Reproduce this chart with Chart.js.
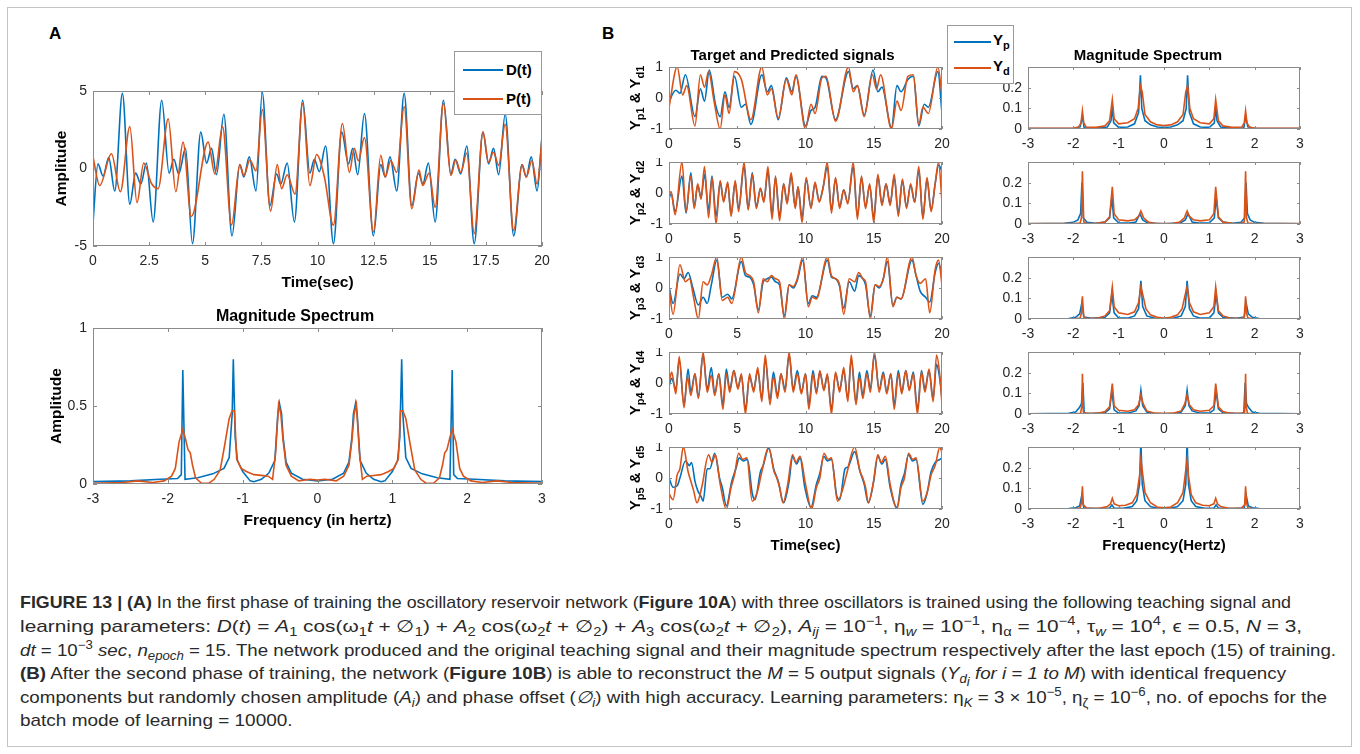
<!DOCTYPE html>
<html><head><meta charset="utf-8">
<script src="https://cdn.jsdelivr.net/npm/chart.js@4.4.0/dist/chart.umd.min.js"></script>
<style>
body{margin:0;background:#fff;}
#fig{position:relative;width:1360px;height:754px;overflow:hidden;background:#fff;font-family:"Liberation Sans",Arial,Helvetica,sans-serif;color:#000;}
#fig canvas{position:absolute;}
.frame{position:absolute;left:7px;top:7px;width:1345px;height:740px;border:1px solid #c4c4c4;box-sizing:border-box;}
.plabel{position:absolute;font-weight:bold;font-size:17px;line-height:20px;}
.legend{position:absolute;background:#fff;border:1px solid #9a9a9a;box-sizing:border-box;z-index:5;}
.lgline{position:absolute;height:2px;}
.lgtext{position:absolute;font-weight:bold;font-size:15px;line-height:18px;white-space:nowrap;}
.lgtext sub,.ylab sub{font-size:11px;vertical-align:-4px;line-height:0;}
.ylab{position:absolute;font-weight:bold;font-size:15px;line-height:18px;white-space:nowrap;transform:translate(-50%,-50%) rotate(-90deg);z-index:4;}
.cap{position:absolute;left:20px;white-space:nowrap;font-family:"Liberation Sans",Arial,Helvetica,sans-serif;font-size:17px;line-height:20px;color:#2a2a2a;transform-origin:0 50%;}
.cap sub,.cap sup{font-size:12px;line-height:0;}
</style>
</head><body>
<div id="fig">
<div class="frame"></div>
<div class="plabel" style="left:49px;top:24px">A</div>
<div class="plabel" style="left:602px;top:24px">B</div>
</div>
<script>
// ---------- Panel A data ----------
const aTimeD = [[0,-3.5],[0.22,0.3],[0.45,-0.5],[0.7,0.7],[0.97,-1.45],[1.31,4.85],[1.64,-2.3],[1.9,-0.3],[2.13,-1.0],[2.38,0.35],[2.68,-3.45],[3.06,4.4],[3.39,-0.3],[3.6,0.6],[3.82,-0.35],[4.12,1.3],[4.43,-4.85],[4.8,2.35],[5.06,0.35],[5.28,1.3],[5.5,-0.4],[5.83,3.5],[6.19,-4.35],[6.54,0.25],[6.72,-0.55],[6.96,0.75],[7.26,-1.45],[7.54,4.9],[7.88,-2.4],[8.18,-0.35],[8.36,-1.0],[8.65,0.35],[8.97,-3.45],[9.34,4.4],[9.66,-0.3],[9.86,0.6],[10.08,-0.2],[10.36,1.45],[10.71,-4.85],[11.08,2.35],[11.38,0.3],[11.57,1.3],[11.79,-0.4],[12.09,3.55],[12.49,-4.35],[12.82,0.25],[13.02,-0.55],[13.23,0.75],[13.53,-1.45],[13.86,4.85],[14.2,-2.4],[14.5,-0.3],[14.69,-1.0],[14.94,0.35],[15.24,-3.45],[15.61,4.4],[15.94,-0.35],[16.13,0.6],[16.38,-0.35],[16.65,1.45],[16.98,-4.85],[17.37,2.35],[17.62,0.3],[17.84,1.3],[18.07,-0.4],[18.36,3.5],[18.74,-4.35],[19.11,0.25],[19.3,-0.55],[19.52,0.75],[19.78,-1.45],[20,2.1]];
const aTimeP = [[0,0.75],[0.3,-1.1],[0.82,0.95],[1.22,-1.5],[1.64,2.7],[1.96,-2.2],[2.26,0.35],[2.6,-0.95],[2.9,-1.3],[3.35,3.2],[3.69,-1.5],[4.01,1.7],[4.38,-3.1],[5.13,1.7],[5.43,-0.35],[5.77,2.7],[6.17,-3.65],[6.54,0.25],[6.72,-0.45],[6.99,0.55],[7.26,-0.15],[7.54,3.8],[7.91,-2.75],[8.21,0.25],[8.4,-1.3],[8.65,-0.4],[9.0,-1.65],[9.34,4.2],[9.66,-1.1],[9.96,0.9],[10.3,-0.5],[10.71,-3.65],[11.11,2.9],[11.42,-0.25],[11.64,1.3],[11.82,0.5],[12.09,2.0],[12.49,-4.1],[12.82,0.85],[13.02,-0.55],[13.26,0.5],[13.53,-0.25],[13.86,4.0],[14.2,-2.6],[14.52,-0.1],[14.69,-1.1],[14.97,-0.3],[15.24,-2.5],[15.61,4.2],[15.94,-0.45],[16.16,0.55],[16.38,-0.25],[16.65,1.0],[16.98,-4.2],[17.37,2.35],[17.62,0.4],[17.84,1.05],[18.07,0.2],[18.36,2.85],[18.74,-4.0],[19.11,0.25],[19.3,-0.55],[19.55,0.5],[19.78,-1.0],[20,1.9]];
const aSpecD = [[-3,0.015],[-2.5,0.02],[-2.1,0.03],[-1.87,0.035],[-1.82,0.06],[-1.8,0.73],[-1.77,0.03],[-1.6,0.04],[-1.4,0.065],[-1.25,0.1],[-1.18,0.17],[-1.14,0.45],[-1.125,0.8],[-1.1,0.3],[-1.07,0.15],[-1.0,0.08],[-0.9,0.02],[-0.85,0.015],[-0.75,0.03],[-0.65,0.07],[-0.57,0.15],[-0.53,0.45],[-0.51,0.52],[-0.48,0.45],[-0.46,0.3],[-0.42,0.14],[-0.35,0.07],[-0.2,0.03],[0,0.02],[0.2,0.03],[0.35,0.07],[0.42,0.14],[0.46,0.3],[0.48,0.45],[0.51,0.52],[0.53,0.45],[0.57,0.15],[0.65,0.07],[0.75,0.03],[0.85,0.015],[0.9,0.02],[1.0,0.08],[1.07,0.15],[1.1,0.3],[1.125,0.8],[1.14,0.45],[1.18,0.17],[1.25,0.1],[1.4,0.065],[1.6,0.04],[1.77,0.03],[1.8,0.73],[1.82,0.06],[1.87,0.035],[2.1,0.03],[2.5,0.02],[3,0.015]];
const aSpecP = [[-3,0.005],[-2.6,0.01],[-2.4,0.02],[-2.2,0.01],[-2.05,0.02],[-1.95,0.05],[-1.9,0.1],[-1.85,0.27],[-1.8,0.35],[-1.77,0.3],[-1.73,0.22],[-1.7,0.2],[-1.67,0.12],[-1.63,0.04],[-1.55,0.005],[-1.45,0.005],[-1.38,0.03],[-1.3,0.09],[-1.24,0.25],[-1.18,0.42],[-1.14,0.47],[-1.11,0.47],[-1.08,0.16],[-1.02,0.1],[-0.95,0.08],[-0.85,0.06],[-0.75,0.055],[-0.66,0.05],[-0.6,0.03],[-0.56,0.2],[-0.52,0.51],[-0.49,0.45],[-0.46,0.28],[-0.42,0.12],[-0.35,0.05],[-0.25,0.02],[-0.1,0.03],[0,0.025],[0.1,0.03],[0.25,0.02],[0.35,0.05],[0.42,0.12],[0.46,0.28],[0.49,0.45],[0.52,0.51],[0.56,0.2],[0.6,0.03],[0.66,0.05],[0.75,0.055],[0.85,0.06],[0.95,0.08],[1.02,0.1],[1.08,0.16],[1.11,0.47],[1.14,0.47],[1.18,0.42],[1.24,0.25],[1.3,0.09],[1.38,0.03],[1.45,0.005],[1.55,0.005],[1.63,0.04],[1.67,0.12],[1.7,0.2],[1.73,0.22],[1.77,0.3],[1.8,0.35],[1.85,0.27],[1.9,0.1],[1.95,0.05],[2.05,0.02],[2.2,0.01],[2.4,0.02],[2.6,0.01],[3,0.005]];

// ---------- Panel B time signals (Yp = predicted, blue; Yd = target, orange) ----------
const bTimeP1 = [[0,-0.1],[0.5,0.25],[0.8,0.15],[1.2,0.75],[1.9,-0.6],[2.3,0.3],[2.6,-0.1],[2.95,0.9],[3.4,-0.2],[3.75,-0.6],[4.1,0.2],[4.4,-0.3],[4.8,0.7],[5.3,-0.3],[5.6,-0.2],[6.0,-0.85],[6.8,0.75],[7.2,0.2],[7.5,0.4],[8.0,-0.7],[8.6,0.65],[9.0,0.2],[9.3,0.7],[10.0,-0.9],[10.4,-0.4],[10.7,-0.3],[11.2,0.7],[11.5,0.65],[12.2,-0.7],[13.15,0.85],[13.5,0.3],[13.8,0.4],[14.3,-0.55],[14.95,0.9],[15.3,0.2],[15.6,0.35],[16.3,-0.95],[16.7,0.4],[17.0,0.2],[17.5,0.6],[17.9,0.7],[18.3,-0.9],[18.7,-0.2],[19.0,-0.3],[19.7,0.85],[20,-0.5]];
const bTimeD1 = [[0,-0.3],[0.6,1.0],[1.0,0.1],[1.3,0.4],[1.9,-0.9],[2.3,0.75],[2.6,0.35],[2.9,0.85],[3.3,-0.1],[3.75,-1.0],[4.1,0.1],[4.4,-0.5],[4.8,0.85],[5.3,0.6],[6.0,-0.7],[6.8,1.0],[7.2,0.1],[7.5,0.3],[8.0,-0.65],[8.6,0.6],[9.0,0.1],[9.3,0.75],[10.0,-1.0],[10.4,-0.2],[10.7,-0.5],[11.2,0.65],[11.5,0.7],[12.2,-0.75],[13.15,1.0],[13.5,0.2],[13.8,0.4],[14.3,-0.6],[14.9,0.75],[15.2,0.3],[15.5,0.75],[16.3,-1.0],[16.7,-0.1],[17.0,-0.4],[17.5,0.7],[17.9,0.75],[18.3,-0.85],[18.6,-0.3],[19.0,-0.5],[19.7,1.0],[20,0.1]];
const bTimeP2 = [[0,-0.2],[0.15,0.0],[0.45,-0.6],[0.95,0.55],[1.25,-0.65],[1.6,0.65],[1.85,-0.45],[2.1,0.25],[2.35,-0.15],[2.6,0.6],[2.9,-0.55],[3.15,0.55],[3.45,-0.75],[3.75,0.35],[4.0,-0.25],[4.3,0.3],[4.55,-0.7],[4.85,0.35],[5.1,-0.5],[5.5,0.85],[5.8,-0.5],[6.1,0.65],[6.4,-0.45],[6.7,0.15],[6.95,-0.25],[7.25,0.7],[7.55,-0.7],[7.8,0.5],[8.1,-0.75],[8.4,0.3],[8.65,-0.3],[8.95,0.55],[9.25,-0.45],[9.45,0.2],[9.75,-0.8],[10.05,0.45],[10.4,-0.45],[10.7,0.3],[11.0,-0.25],[11.3,0.2],[11.6,0.85],[11.9,-0.55],[12.2,0.45],[12.5,-0.45],[12.8,0.1],[13.1,-0.3],[13.5,0.85],[13.8,-0.75],[14.1,0.5],[14.4,-0.45],[14.7,0.25],[15.0,-0.8],[15.3,0.55],[15.6,-0.35],[15.9,0.3],[16.2,-0.35],[16.5,0.5],[16.8,-0.65],[17.1,0.4],[17.4,-0.45],[17.7,0.25],[18.0,-0.3],[18.3,0.75],[18.6,-0.8],[18.9,0.45],[19.2,-0.55],[19.5,0.3],[19.75,0.9],[20,0.7]];
const bTimeD2 = [[0,-0.1],[0.15,0.05],[0.45,-0.7],[0.95,1.0],[1.25,-0.6],[1.6,0.55],[1.85,-0.5],[2.1,0.3],[2.35,-0.2],[2.6,0.85],[2.9,-0.8],[3.15,0.5],[3.45,-1.0],[3.75,0.4],[4.0,-0.3],[4.3,0.35],[4.55,-0.75],[4.85,0.4],[5.1,-0.6],[5.5,1.0],[5.8,-0.55],[6.1,0.6],[6.4,-0.5],[6.7,0.15],[6.95,-0.3],[7.25,0.85],[7.55,-0.85],[7.8,0.55],[8.1,-0.9],[8.4,0.3],[8.65,-0.35],[8.95,0.65],[9.25,-0.5],[9.45,0.2],[9.75,-0.95],[10.05,0.5],[10.4,-0.5],[10.7,0.35],[11.0,-0.3],[11.3,0.2],[11.6,1.0],[11.9,-0.65],[12.2,0.5],[12.5,-0.5],[12.8,0.1],[13.1,-0.35],[13.5,1.0],[13.8,-0.85],[14.1,0.55],[14.4,-0.5],[14.7,0.3],[15.0,-0.95],[15.3,0.6],[15.6,-0.4],[15.9,0.3],[16.2,-0.4],[16.5,0.6],[16.8,-0.75],[17.1,0.45],[17.4,-0.5],[17.7,0.3],[18.0,-0.3],[18.3,0.85],[18.6,-0.85],[18.9,0.5],[19.2,-0.6],[19.5,0.3],[19.75,1.0],[20,-0.3]];
const bTimeP3 = [[0,0.05],[0.3,-0.5],[0.8,0.45],[1.1,0.3],[1.4,0.5],[1.75,0.0],[2.15,-0.55],[2.5,-0.3],[2.8,-0.5],[3.1,0.1],[3.5,0.9],[3.9,-0.3],[4.3,-0.2],[4.6,-0.35],[5.3,0.85],[5.6,0.4],[5.9,0.35],[6.2,0.1],[6.55,-0.7],[6.9,0.2],[7.2,0.3],[7.5,0.35],[7.8,0.2],[8.1,0.1],[8.45,-0.9],[8.8,0.1],[9.1,0.0],[9.4,0.25],[9.8,0.9],[10.2,-0.5],[10.5,-0.25],[10.8,-0.3],[11.6,0.9],[11.9,0.35],[12.2,0.3],[12.5,0.05],[12.8,-0.65],[13.2,0.2],[13.6,-0.1],[13.9,0.4],[14.2,0.3],[14.4,0.1],[14.75,-0.9],[15.1,0.1],[15.4,0.0],[15.7,0.3],[16.0,0.85],[16.4,-0.55],[16.7,-0.3],[17.0,-0.35],[17.8,0.9],[18.1,0.4],[18.4,-0.1],[18.8,-0.3],[19.1,-0.45],[19.5,0.5],[19.75,0.8],[20,0.4]];
const bTimeD3 = [[0,0.0],[0.3,-0.85],[0.8,0.75],[1.2,0.2],[1.5,0.3],[1.8,-0.3],[2.15,-1.0],[2.5,0.2],[2.8,0.1],[3.1,0.4],[3.5,1.0],[3.9,-0.4],[4.3,-0.3],[4.6,-0.5],[5.3,1.0],[5.6,0.5],[5.9,0.4],[6.2,0.2],[6.55,-0.8],[6.9,0.3],[7.2,0.2],[7.5,0.4],[7.8,0.3],[8.1,0.2],[8.45,-1.0],[8.8,0.1],[9.1,0.05],[9.4,0.3],[9.8,1.0],[10.2,-0.6],[10.5,-0.3],[10.8,-0.35],[11.6,1.0],[11.9,0.4],[12.2,0.3],[12.5,0.1],[12.8,-0.85],[13.2,0.3],[13.6,0.2],[13.9,0.5],[14.2,0.3],[14.4,0.2],[14.75,-1.0],[15.1,0.1],[15.4,0.05],[15.7,0.3],[16.0,1.0],[16.4,-0.6],[16.7,-0.3],[17.0,-0.35],[17.8,1.0],[18.1,0.4],[18.4,0.15],[18.8,0.3],[19.1,-0.8],[19.5,0.6],[19.75,0.9],[20,0.1]];
const bTimeP4 = [[0,-0.1],[0.2,0.15],[0.5,-0.2],[0.75,0.75],[1.1,-0.7],[1.4,0.45],[1.6,-0.3],[1.9,0.3],[2.15,-0.45],[2.5,0.9],[2.8,-0.2],[3.1,0.5],[3.35,-0.35],[3.65,0.3],[3.95,-0.7],[4.2,0.45],[4.45,-0.2],[4.75,0.4],[5.05,-0.15],[5.3,0.25],[5.6,-0.85],[5.9,0.2],[6.2,-0.2],[6.5,0.4],[6.8,-0.5],[7.05,0.75],[7.4,-0.55],[7.65,0.35],[7.95,-0.4],[8.2,0.3],[8.5,-0.2],[8.8,0.9],[9.1,-0.2],[9.4,0.4],[9.7,-0.3],[10.0,0.3],[10.25,-0.7],[10.55,0.4],[10.8,-0.3],[11.05,0.35],[11.35,-0.2],[11.6,0.25],[11.9,-0.85],[12.2,0.3],[12.5,-0.2],[12.8,0.4],[13.1,-0.5],[13.35,0.75],[13.7,-0.6],[13.95,0.35],[14.2,-0.4],[14.5,0.4],[14.75,-0.2],[15.05,0.9],[15.4,-0.2],[15.7,0.35],[15.95,-0.3],[16.25,0.3],[16.5,-0.7],[16.8,0.4],[17.05,-0.3],[17.35,0.4],[17.6,-0.2],[17.9,0.35],[18.2,-0.85],[18.5,0.4],[18.75,-0.2],[19.05,0.4],[19.35,-0.5],[19.6,0.6],[19.85,0.1],[20,-0.5]];
const bTimeD4 = [[0,0.0],[0.2,0.35],[0.5,-0.35],[0.75,0.85],[1.1,-0.8],[1.35,0.2],[1.6,-0.4],[1.9,0.3],[2.15,-0.5],[2.5,1.0],[2.8,-0.3],[3.1,0.25],[3.35,-0.4],[3.65,0.3],[3.95,-0.85],[4.2,0.3],[4.45,-0.3],[4.75,0.4],[5.05,-0.2],[5.3,0.3],[5.6,-1.0],[5.9,0.3],[6.2,-0.3],[6.5,0.5],[6.8,-0.6],[7.05,0.9],[7.4,-0.7],[7.65,0.2],[7.95,-0.5],[8.2,0.3],[8.5,-0.3],[8.8,1.0],[9.1,-0.3],[9.4,0.3],[9.7,-0.35],[10.0,0.3],[10.25,-0.85],[10.55,0.3],[10.8,-0.35],[11.05,0.4],[11.35,-0.25],[11.6,0.3],[11.9,-1.0],[12.2,0.35],[12.5,-0.3],[12.8,0.5],[13.1,-0.6],[13.35,0.9],[13.7,-0.7],[13.95,0.2],[14.2,-0.5],[14.5,0.3],[14.75,-0.3],[15.05,1.0],[15.4,-0.3],[15.7,0.3],[15.95,-0.35],[16.25,0.3],[16.5,-0.85],[16.8,0.3],[17.05,-0.35],[17.35,0.4],[17.6,-0.25],[17.9,0.3],[18.2,-1.0],[18.5,0.35],[18.75,-0.3],[19.05,0.45],[19.35,-0.6],[19.6,0.9],[19.85,0.2],[20,-0.7]];
const bTimeP5 = [[0,0.0],[0.3,-0.3],[0.6,-0.25],[0.8,0.0],[1.2,0.55],[1.5,0.4],[1.65,0.5],[1.9,-0.1],[2.1,-0.4],[2.35,-0.6],[2.5,-0.75],[2.8,0.3],[3.0,0.3],[3.35,0.8],[3.7,0.0],[3.9,-0.3],[4.2,-0.9],[4.6,-0.1],[4.9,0.3],[5.15,0.65],[5.45,0.55],[5.75,0.6],[6.1,-0.5],[6.3,-0.7],[6.7,0.2],[6.9,0.4],[7.3,0.95],[7.7,0.25],[8.0,-0.1],[8.4,-0.8],[8.8,-0.1],[9.05,0.7],[9.35,0.45],[9.6,0.65],[9.95,-0.3],[10.4,-0.95],[10.8,-0.2],[11.05,0.15],[11.35,0.7],[11.6,0.55],[11.9,0.6],[12.3,-0.6],[12.5,-0.7],[12.9,0.3],[13.1,0.35],[13.6,0.85],[14.0,0.2],[14.3,-0.2],[14.6,-0.8],[15.0,-0.1],[15.3,0.7],[15.6,0.45],[15.85,0.6],[16.2,-0.3],[16.7,-0.95],[17.0,-0.2],[17.25,0.15],[17.55,0.75],[17.85,0.55],[18.1,0.6],[18.6,-0.85],[18.9,-0.5],[19.2,0.2],[19.5,0.5],[19.85,0.6],[20,0.65]];
const bTimeD5 = [[0,-0.5],[0.3,-0.7],[0.6,0.1],[0.8,0.3],[1.05,1.0],[1.4,0.2],[1.6,-0.1],[1.8,-0.4],[2.05,-0.8],[2.4,-0.3],[2.9,0.75],[3.15,0.5],[3.4,0.75],[3.75,-0.2],[4.2,-1.0],[4.55,-0.3],[4.8,0.1],[5.1,0.8],[5.4,0.6],[5.7,0.65],[6.1,-0.75],[6.5,-0.4],[6.75,0.1],[7.3,1.0],[7.7,0.2],[7.9,0.0],[8.1,-0.3],[8.35,-0.8],[8.7,-0.2],[9.05,0.75],[9.3,0.5],[9.6,0.7],[10.0,-0.2],[10.45,-1.0],[10.8,-0.3],[11.05,0.0],[11.35,0.8],[11.65,0.6],[11.9,0.65],[12.35,-0.75],[12.7,-0.4],[13.0,0.1],[13.6,1.0],[14.0,0.2],[14.2,0.0],[14.4,-0.3],[14.6,-0.8],[14.95,-0.2],[15.3,0.75],[15.55,0.5],[15.85,0.7],[16.2,-0.2],[16.7,-1.0],[17.0,-0.3],[17.25,0.0],[17.55,0.8],[17.85,0.6],[18.1,0.65],[18.6,-0.75],[18.95,-0.4],[19.2,0.1],[19.5,0.4],[19.85,1.0],[20,0.8]];

// ---------- Panel B magnitude spectra ----------
const bSpecP1 = [[-3,0.002],[-2,0.003],[-1.85,0.01],[-1.8,0.06],[-1.76,0.005],[-1.5,0.004],[-1.25,0.01],[-1.17,0.04],[-1.14,0.11],[-1.11,0.03],[-1.0,0.008],[-0.8,0.01],[-0.65,0.025],[-0.56,0.08],[-0.52,0.26],[-0.49,0.1],[-0.42,0.04],[-0.3,0.02],[-0.15,0.01],[0,0.008],[0.15,0.01],[0.3,0.02],[0.42,0.04],[0.49,0.1],[0.52,0.26],[0.56,0.08],[0.65,0.025],[0.8,0.01],[1.0,0.008],[1.11,0.03],[1.14,0.11],[1.17,0.04],[1.25,0.01],[1.5,0.004],[1.76,0.005],[1.8,0.06],[1.85,0.01],[2,0.003],[3,0.002]];
const bSpecD1 = [[-3,0.003],[-2,0.003],[-1.88,0.01],[-1.83,0.03],[-1.8,0.088],[-1.77,0.03],[-1.72,0.01],[-1.5,0.008],[-1.3,0.015],[-1.2,0.04],[-1.14,0.142],[-1.1,0.05],[-1.0,0.025],[-0.8,0.03],[-0.65,0.05],[-0.57,0.1],[-0.52,0.21],[-0.48,0.18],[-0.42,0.07],[-0.3,0.035],[-0.15,0.02],[0,0.017],[0.15,0.02],[0.3,0.035],[0.42,0.07],[0.48,0.18],[0.52,0.21],[0.57,0.1],[0.65,0.05],[0.8,0.03],[1.0,0.025],[1.1,0.05],[1.14,0.142],[1.2,0.04],[1.3,0.015],[1.5,0.008],[1.72,0.01],[1.77,0.03],[1.8,0.088],[1.83,0.03],[1.88,0.01],[2,0.003],[3,0.003]];
const bSpecP2 = [[-3,0.001],[-2.2,0.003],[-2.0,0.008],[-1.9,0.02],[-1.84,0.05],[-1.81,0.2],[-1.78,0.03],[-1.7,0.008],[-1.5,0.004],[-1.3,0.01],[-1.2,0.03],[-1.15,0.13],[-1.11,0.03],[-1.0,0.006],[-0.8,0.004],[-0.62,0.01],[-0.53,0.05],[-0.47,0.02],[-0.35,0.004],[0,0.001],[0.35,0.004],[0.47,0.02],[0.53,0.05],[0.62,0.01],[0.8,0.004],[1.0,0.006],[1.11,0.03],[1.15,0.13],[1.2,0.03],[1.3,0.01],[1.5,0.004],[1.7,0.008],[1.78,0.03],[1.81,0.2],[1.84,0.05],[1.9,0.02],[2.0,0.008],[2.2,0.003],[3,0.001]];
const bSpecD2 = [[-3,0.002],[-2,0.002],[-1.85,0.005],[-1.82,0.03],[-1.8,0.255],[-1.77,0.01],[-1.7,0.002],[-1.5,0.003],[-1.3,0.01],[-1.2,0.035],[-1.14,0.18],[-1.1,0.05],[-1.0,0.02],[-0.8,0.015],[-0.65,0.02],[-0.55,0.04],[-0.51,0.063],[-0.45,0.03],[-0.35,0.01],[-0.2,0.003],[0,0.002],[0.2,0.003],[0.35,0.01],[0.45,0.03],[0.51,0.063],[0.55,0.04],[0.65,0.02],[0.8,0.015],[1.0,0.02],[1.1,0.05],[1.14,0.18],[1.2,0.035],[1.3,0.01],[1.5,0.003],[1.7,0.002],[1.77,0.01],[1.8,0.255],[1.82,0.03],[1.85,0.005],[2,0.002],[3,0.002]];
const bSpecP3 = [[-3,0.001],[-2.1,0.002],[-1.95,0.008],[-1.86,0.025],[-1.81,0.08],[-1.77,0.01],[-1.6,0.003],[-1.3,0.008],[-1.2,0.03],[-1.15,0.12],[-1.1,0.03],[-1.0,0.005],[-0.8,0.004],[-0.65,0.015],[-0.56,0.05],[-0.51,0.185],[-0.47,0.06],[-0.38,0.015],[-0.2,0.003],[0,0.001],[0.2,0.003],[0.38,0.015],[0.47,0.06],[0.51,0.185],[0.56,0.05],[0.65,0.015],[0.8,0.004],[1.0,0.005],[1.1,0.03],[1.15,0.12],[1.2,0.03],[1.3,0.008],[1.6,0.003],[1.77,0.01],[1.81,0.08],[1.86,0.025],[1.95,0.008],[2.1,0.002],[3,0.001]];
const bSpecD3 = [[-3,0.001],[-2,0.001],[-1.85,0.005],[-1.82,0.03],[-1.8,0.11],[-1.77,0.01],[-1.7,0.002],[-1.45,0.005],[-1.3,0.015],[-1.2,0.04],[-1.14,0.155],[-1.1,0.06],[-1.0,0.03],[-0.8,0.022],[-0.65,0.035],[-0.56,0.08],[-0.51,0.155],[-0.47,0.12],[-0.4,0.05],[-0.3,0.02],[-0.15,0.008],[0,0.005],[0.15,0.008],[0.3,0.02],[0.4,0.05],[0.47,0.12],[0.51,0.155],[0.56,0.08],[0.65,0.035],[0.8,0.022],[1.0,0.03],[1.1,0.06],[1.14,0.155],[1.2,0.04],[1.3,0.015],[1.45,0.005],[1.7,0.002],[1.77,0.01],[1.8,0.11],[1.82,0.03],[1.85,0.005],[2,0.001],[3,0.001]];
const bSpecP4 = [[-3,0.001],[-2.1,0.003],[-1.95,0.01],[-1.87,0.03],[-1.82,0.05],[-1.79,0.15],[-1.76,0.005],[-1.6,0.002],[-1.3,0.006],[-1.2,0.025],[-1.15,0.11],[-1.1,0.02],[-1.0,0.004],[-0.8,0.004],[-0.62,0.015],[-0.55,0.04],[-0.51,0.115],[-0.47,0.04],[-0.38,0.01],[-0.2,0.002],[0,0.001],[0.2,0.002],[0.38,0.01],[0.47,0.04],[0.51,0.115],[0.55,0.04],[0.62,0.015],[0.8,0.004],[1.0,0.004],[1.1,0.02],[1.15,0.11],[1.2,0.025],[1.3,0.006],[1.6,0.002],[1.76,0.005],[1.79,0.15],[1.82,0.05],[1.87,0.03],[1.95,0.01],[2.1,0.003],[3,0.001]];
const bSpecD4 = [[-3,0.001],[-2,0.001],[-1.84,0.004],[-1.81,0.04],[-1.8,0.195],[-1.78,0.01],[-1.7,0.002],[-1.45,0.004],[-1.3,0.012],[-1.2,0.035],[-1.14,0.147],[-1.1,0.04],[-1.0,0.018],[-0.8,0.013],[-0.65,0.02],[-0.56,0.045],[-0.51,0.093],[-0.46,0.05],[-0.38,0.015],[-0.2,0.004],[0,0.003],[0.2,0.004],[0.38,0.015],[0.46,0.05],[0.51,0.093],[0.56,0.045],[0.65,0.02],[0.8,0.013],[1.0,0.018],[1.1,0.04],[1.14,0.147],[1.2,0.035],[1.3,0.012],[1.45,0.004],[1.7,0.002],[1.78,0.01],[1.8,0.195],[1.81,0.04],[1.84,0.004],[2,0.001],[3,0.001]];
const bSpecP5 = [[-3,0.001],[-2.1,0.002],[-1.95,0.006],[-1.86,0.015],[-1.81,0.07],[-1.77,0.005],[-1.5,0.002],[-1.2,0.004],[-1.15,0.02],[-1.1,0.004],[-0.9,0.003],[-0.7,0.012],[-0.6,0.04],[-0.54,0.12],[-0.51,0.33],[-0.48,0.12],[-0.42,0.04],[-0.3,0.012],[-0.15,0.004],[0,0.002],[0.15,0.004],[0.3,0.012],[0.42,0.04],[0.48,0.12],[0.51,0.33],[0.54,0.12],[0.6,0.04],[0.7,0.012],[0.9,0.003],[1.1,0.004],[1.15,0.02],[1.2,0.004],[1.5,0.002],[1.77,0.005],[1.81,0.07],[1.86,0.015],[1.95,0.006],[2.1,0.002],[3,0.001]];
const bSpecD5 = [[-3,0.001],[-2,0.001],[-1.85,0.005],[-1.82,0.03],[-1.8,0.11],[-1.78,0.02],[-1.7,0.003],[-1.4,0.005],[-1.25,0.012],[-1.18,0.025],[-1.14,0.052],[-1.1,0.025],[-1.0,0.016],[-0.85,0.018],[-0.7,0.03],[-0.6,0.07],[-0.54,0.16],[-0.51,0.24],[-0.47,0.17],[-0.42,0.08],[-0.3,0.03],[-0.15,0.01],[0,0.006],[0.15,0.01],[0.3,0.03],[0.42,0.08],[0.47,0.17],[0.51,0.24],[0.54,0.16],[0.6,0.07],[0.7,0.03],[0.85,0.018],[1.0,0.016],[1.1,0.025],[1.14,0.052],[1.18,0.025],[1.25,0.012],[1.4,0.005],[1.7,0.003],[1.78,0.02],[1.8,0.11],[1.82,0.03],[1.85,0.005],[2,0.001],[3,0.001]];

// ---------- tick labels ----------
const aTimeXLabels = ['0','2.5','5','7.5','10','12.5','15','17.5','20'];
const aTimeYLabels = ['-5','0','5'];
const specXLabels = ['-3','-2','-1','0','1','2','3'];
const aSpecYLabels = ['0','0.5','1'];
const bTimeXLabels = ['0','5','10','15','20'];
const bTimeYLabels = ['-1','0','1'];
const bSpecYLabels = ['0','0.1','0.2'];

const BLUE = '#0072BD', ORANGE = '#D95319';
const FONT = '"Liberation Sans", Arial, Helvetica, sans-serif';
const fig = document.getElementById('fig');

const boxTicks = {
  id: 'boxTicks',
  afterDatasetsDraw(chart, args, opts) {
    const {ctx, chartArea: a, scales: {x, y}} = chart;
    const L = opts.len || 4;
    ctx.save();
    ctx.strokeStyle = '#8a8a8a';
    ctx.lineWidth = 1;
    ctx.beginPath();
    x.ticks.forEach(t => {
      const p = Math.round(x.getPixelForValue(t.value)) + 0.5;
      ctx.moveTo(p, a.bottom); ctx.lineTo(p, a.bottom - L);
      ctx.moveTo(p, a.top); ctx.lineTo(p, a.top + L);
    });
    y.ticks.forEach(t => {
      const p = Math.round(y.getPixelForValue(t.value)) + 0.5;
      ctx.moveTo(a.left, p); ctx.lineTo(a.left + L, p);
      ctx.moveTo(a.right, p); ctx.lineTo(a.right - L, p);
    });
    ctx.stroke();
    ctx.strokeRect(Math.round(a.left) + 0.5, Math.round(a.top) + 0.5, Math.round(a.right - a.left) - 1, Math.round(a.bottom - a.top) - 1);
    ctx.restore();
  }
};

function ds(points, color, order, smooth) {
  return {
    data: points.map(p => ({x: p[0], y: p[1]})),
    borderColor: color, borderWidth: 1.6, pointRadius: 0, fill: false, order: order,
    tension: smooth ? 0.4 : 0, cubicInterpolationMode: smooth ? 'monotone' : 'default'
  };
}

function axis(horiz, min, max, labels, size, title) {
  return {
    type: 'linear', position: horiz ? 'bottom' : 'left', min: min, max: max,
    afterBuildTicks: s => { s.ticks = labels.map(l => ({value: parseFloat(l)})); },
    afterFit: s => {
      if (horiz) s.height = size; else s.width = size;
      s.paddingLeft = 0; s.paddingRight = 0; s.paddingTop = 0; s.paddingBottom = 0;
    },
    grid: {display: false, drawTicks: false},
    border: {display: false},
    ticks: {
      font: {family: FONT, size: 14}, color: '#262626', padding: horiz ? 7 : 6,
      maxRotation: 0, minRotation: 0, autoSkip: false,
      callback: (v, i) => labels[i]
    },
    title: title ? {display: true, text: title.text, color: '#000', padding: 0,
      font: {family: FONT, size: title.size, weight: 'bold', lineHeight: '18px'}} : {display: false}
  };
}

function plot(o) {
  const titleH = o.title ? o.title.lh + o.title.gap : 0;
  const W = (o.r - o.l) + o.yW + o.padR;
  const H = (o.b - o.t) + o.padT + titleH + o.xH;
  const cv = document.createElement('canvas');
  cv.width = W; cv.height = H;
  cv.style.left = (o.l - o.yW) + 'px';
  cv.style.top = (o.t - o.padT - titleH) + 'px';
  cv.style.width = W + 'px'; cv.style.height = H + 'px';
  fig.appendChild(cv);
  new Chart(cv, {
    type: 'line',
    data: {datasets: o.datasets},
    options: {
      responsive: false, animation: false, events: [], devicePixelRatio: 1,
      layout: {padding: {left: 0, right: o.padR, top: o.padT, bottom: 0}},
      plugins: {
        legend: {display: false}, tooltip: {enabled: false},
        title: o.title ? {display: true, text: o.title.text, color: '#000',
          font: {family: FONT, size: o.title.size, weight: 'bold', lineHeight: o.title.lh + 'px'},
          padding: {top: 0, bottom: o.title.gap}} : {display: false},
        boxTicks: {len: o.tickLen}
      },
      scales: {
        x: axis(true, o.xMin, o.xMax, o.xLabels, o.xH, o.xTitle),
        y: axis(false, o.yMin, o.yMax, o.yLabels, o.yW, o.yTitle)
      }
    },
    plugins: [boxTicks]
  });
}

// Panel A: time signals
plot({l: 93, t: 91, r: 542, b: 246, yW: 40, xH: 46, padT: 6, padR: 14, tickLen: 4,
  xMin: 0, xMax: 20, xLabels: aTimeXLabels, yMin: -5, yMax: 5, yLabels: aTimeYLabels,
  xTitle: {text: 'Time(sec)', size: 15.5}, yTitle: {text: 'Amplitude', size: 15.5},
  datasets: [ds(aTimeD, BLUE, 2, true), ds(aTimeP, ORANGE, 1, true)]});
// Panel A: spectrum
plot({l: 93, t: 328, r: 542, b: 484, yW: 45, xH: 46, padT: 4, padR: 14, tickLen: 4,
  title: {text: 'Magnitude Spectrum', size: 16, lh: 20, gap: 1},
  xMin: -3, xMax: 3, xLabels: specXLabels, yMin: 0, yMax: 1, yLabels: aSpecYLabels,
  xTitle: {text: 'Frequency (in hertz)', size: 15.5}, yTitle: {text: 'Amplitude', size: 15.5},
  datasets: [ds(aSpecD, BLUE, 2, false), ds(aSpecP, ORANGE, 1, false)]});

// Panel B
const rowTops = [67, 162, 257, 352, 447];
const bTimeP = [bTimeP1, bTimeP2, bTimeP3, bTimeP4, bTimeP5];
const bTimeD = [bTimeD1, bTimeD2, bTimeD3, bTimeD4, bTimeD5];
const bSpecP = [bSpecP1, bSpecP2, bSpecP3, bSpecP4, bSpecP5];
const bSpecD = [bSpecD1, bSpecD2, bSpecD3, bSpecD4, bSpecD5];
rowTops.forEach((t, i) => {
  const last = i === 4, first = i === 0;
  plot({l: 669, t: t, r: 942, b: t + 62, yW: 26, xH: last ? 46 : 24, padT: 4, padR: 14, tickLen: 3,
    title: first ? {text: 'Target and Predicted signals', size: 15, lh: 18, gap: 2} : null,
    xMin: 0, xMax: 20, xLabels: bTimeXLabels, yMin: -1, yMax: 1, yLabels: bTimeYLabels,
    xTitle: last ? {text: 'Time(sec)', size: 15} : null, yTitle: null,
    datasets: [ds(bTimeP[i], BLUE, 2, true), ds(bTimeD[i], ORANGE, 1, true)]});
  plot({l: 1028, t: t, r: 1300, b: t + 62, yW: 32, xH: last ? 46 : 24, padT: 4, padR: 14, tickLen: 3,
    title: first ? {text: 'Magnitude Spectrum', size: 15, lh: 18, gap: 2} : null,
    xMin: -3, xMax: 3, xLabels: specXLabels, yMin: 0, yMax: 0.3, yLabels: bSpecYLabels,
    xTitle: last ? {text: 'Frequency(Hertz)', size: 15} : null, yTitle: null,
    datasets: [ds(bSpecP[i], BLUE, 2, false), ds(bSpecD[i], ORANGE, 1, false)]});
  const yl = document.createElement('div');
  yl.className = 'ylab';
  yl.style.left = '635px'; yl.style.top = (t + 31) + 'px';
  yl.innerHTML = 'Y<sub>p' + (i + 1) + '</sub> &amp; Y<sub>d' + (i + 1) + '</sub>';
  fig.appendChild(yl);
});

// Legends
fig.insertAdjacentHTML('beforeend',
  '<div class="legend" style="left:454px;top:51px;width:88px;height:64px">' +
  '<div class="lgline" style="left:8px;top:17px;width:40px;background:' + BLUE + '"></div>' +
  '<div class="lgtext" style="left:51px;top:9px">D(t)</div>' +
  '<div class="lgline" style="left:8px;top:46px;width:40px;background:' + ORANGE + '"></div>' +
  '<div class="lgtext" style="left:51px;top:38px">P(t)</div></div>' +
  '<div class="legend" style="left:947px;top:25px;width:67px;height:59px">' +
  '<div class="lgline" style="left:6px;top:15px;width:37px;background:' + BLUE + '"></div>' +
  '<div class="lgtext" style="left:45px;top:5px">Y<sub>p</sub></div>' +
  '<div class="lgline" style="left:6px;top:41px;width:37px;background:' + ORANGE + '"></div>' +
  '<div class="lgtext" style="left:45px;top:31px">Y<sub>d</sub></div></div>');

// Caption
const capLines = [
  {y: 603, w: 1271, html: '<b>FIGURE 13 | (A)</b> In the first phase of training the oscillatory reservoir network (<b>Figure 10A</b>) with three oscillators is trained using the following teaching signal and'},
  {y: 627, w: 1282, html: 'learning parameters: <i>D</i>(<i>t</i>) = <i>A</i><sub>1</sub> cos(ω<sub>1</sub><i>t</i> + ∅<sub>1</sub>) + <i>A</i><sub>2</sub> cos(ω<sub>2</sub><i>t</i> + ∅<sub>2</sub>) + <i>A</i><sub>3</sub> cos(ω<sub>2</sub><i>t</i> + ∅<sub>2</sub>), <i>A<sub>ij</sub></i> = 10<sup>−1</sup>, η<sub><i>w</i></sub> = 10<sup>−1</sup>, η<sub>α</sub> = 10<sup>−4</sup>, τ<sub><i>w</i></sub> = 10<sup>4</sup>, ϵ = 0.5, <i>N</i> = 3,'},
  {y: 651, w: 1316, html: '<i>dt</i> = 10<sup>−3</sup> <i>sec</i>, <i>n<sub>epoch</sub></i> = 15. The network produced and the original teaching signal and their magnitude spectrum respectively after the last epoch (15) of training.'},
  {y: 674, w: 1266, html: '<b>(B)</b> After the second phase of training, the network (<b>Figure 10B</b>) is able to reconstruct the <i>M</i> = 5 output signals (<i>Y<sub>d<sub>i</sub></sub> for i</i> = <i>1 to M</i>) with identical frequency'},
  {y: 698, w: 1307, html: 'components but randomly chosen amplitude (<i>A<sub>i</sub></i>) and phase offset (<i>∅<sub>i</sub></i>) with high accuracy. Learning parameters: η<sub><i>K</i></sub> = 3 × 10<sup>−5</sup>, η<sub>ζ</sub> = 10<sup>−6</sup>, no. of epochs for the'},
  {y: 721, w: 0, html: 'batch mode of learning = 10000.'}
];
let scaleSum = 0, scaleN = 0;
const capEls = capLines.map(c => {
  const d = document.createElement('div');
  d.className = 'cap';
  d.style.top = (c.y - 10) + 'px';
  d.innerHTML = c.html;
  fig.appendChild(d);
  return d;
});
capLines.forEach((c, i) => {
  if (c.w > 0) {
    const w = capEls[i].getBoundingClientRect().width;
    const s = c.w / w;
    scaleSum += s; scaleN++;
    capEls[i].style.transform = 'scaleX(' + s.toFixed(4) + ')';
  }
});
capLines.forEach((c, i) => {
  if (!(c.w > 0)) capEls[i].style.transform = 'scaleX(' + (scaleSum / scaleN).toFixed(4) + ')';
});
</script>
</body></html>
